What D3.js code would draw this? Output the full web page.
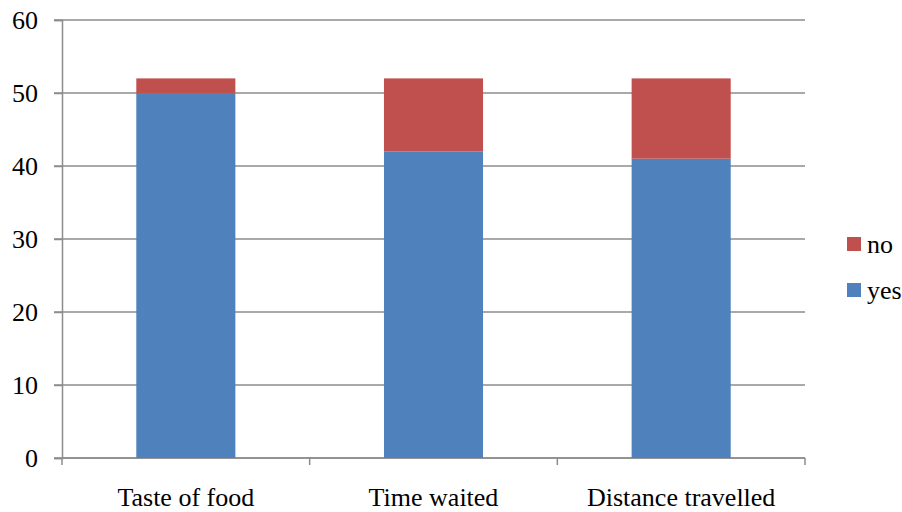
<!DOCTYPE html>
<html><head><meta charset="utf-8">
<script src="https://cdn.jsdelivr.net/npm/d3@7"></script>
</head><body style="margin:0"><svg id="c" width="902" height="512" font-family="Times New Roman, Tinos, Liberation Serif, serif"></svg>
<script>
const categories = ["Taste of food", "Time waited", "Distance travelled"];
const yesValues = [50, 42, 41];
const noValues = [2, 10, 11];
const seriesNames = ["yes", "no"];
const seriesColors = ["#4F81BD", "#C0504D"];
const yTicks = [0, 10, 20, 30, 40, 50, 60];

const svg = d3.select("#c");
const L = 62, R = 805, T = 20, B = 458;
const x = d3.scaleBand().domain(categories).range([L, R]).paddingInner(0.6).paddingOuter(0.3);
const y = d3.scaleLinear().domain([0, 60]).range([B, T]);

function serif(sel) {
  return sel.style("font-family", '"Times New Roman", Tinos, "Liberation Serif", serif').style("font-size", "26px");
}

// gridlines
svg.append("g").selectAll("line").data(yTicks).join("line")
  .attr("x1", L - 8).attr("x2", R).attr("y1", d => y(d)).attr("y2", d => y(d))
  .attr("stroke", "#8c8c8c").attr("stroke-width", 1.5);

// y axis
const ya = svg.append("g").attr("transform", `translate(${L},0)`)
  .call(d3.axisLeft(y).tickValues(yTicks).tickSize(8).tickFormat(""));
ya.select(".domain").attr("stroke", "#8c8c8c").attr("stroke-width", 1.5);
ya.selectAll(".tick line").attr("stroke", "#8c8c8c").attr("stroke-width", 1.5);
svg.append("g").selectAll("text").data(yTicks).join("text")
  .attr("x", L - 24).attr("y", d => y(d)).attr("dy", "0.35em").attr("text-anchor", "end")
  .call(serif).text(d => d);

// x axis
const xa = svg.append("g").attr("transform", `translate(0,${B})`);
xa.append("line").attr("x1", L).attr("x2", R).attr("y1", 0).attr("y2", 0)
  .attr("stroke", "#8c8c8c").attr("stroke-width", 1.5);
const bounds = d3.range(categories.length + 1).map(i => L + i * (R - L) / categories.length);
xa.selectAll("line.t").data(bounds).join("line").attr("class", "t")
  .attr("x1", d => d).attr("x2", d => d).attr("y1", 0).attr("y2", 7)
  .attr("stroke", "#8c8c8c").attr("stroke-width", 1.5);
xa.selectAll("text").data(categories).join("text")
  .attr("x", d => x(d) + x.bandwidth() / 2).attr("y", 48)
  .attr("text-anchor", "middle").call(serif).text(d => d);

// stacked bars
const data = categories.map((c, i) => ({cat: c, yes: yesValues[i], no: noValues[i]}));
const stack = d3.stack().keys(seriesNames)(data);
svg.append("g").selectAll("g").data(stack).join("g")
  .attr("fill", (d, i) => seriesColors[i])
  .selectAll("rect").data(d => d).join("rect")
  .attr("x", d => x(d.data.cat)).attr("width", x.bandwidth())
  .attr("y", d => y(d[1])).attr("height", d => y(d[0]) - y(d[1]));

// legend
const legendItems = [{name: "no", color: seriesColors[1]}, {name: "yes", color: seriesColors[0]}];
const lg = svg.append("g").selectAll("g").data(legendItems).join("g")
  .attr("transform", (d, i) => `translate(847,${237 + i * 46})`);
lg.append("rect").attr("width", 14).attr("height", 14).attr("fill", d => d.color);
lg.append("text").attr("x", 20).attr("y", 16).call(serif).text(d => d.name);
</script></body></html>
